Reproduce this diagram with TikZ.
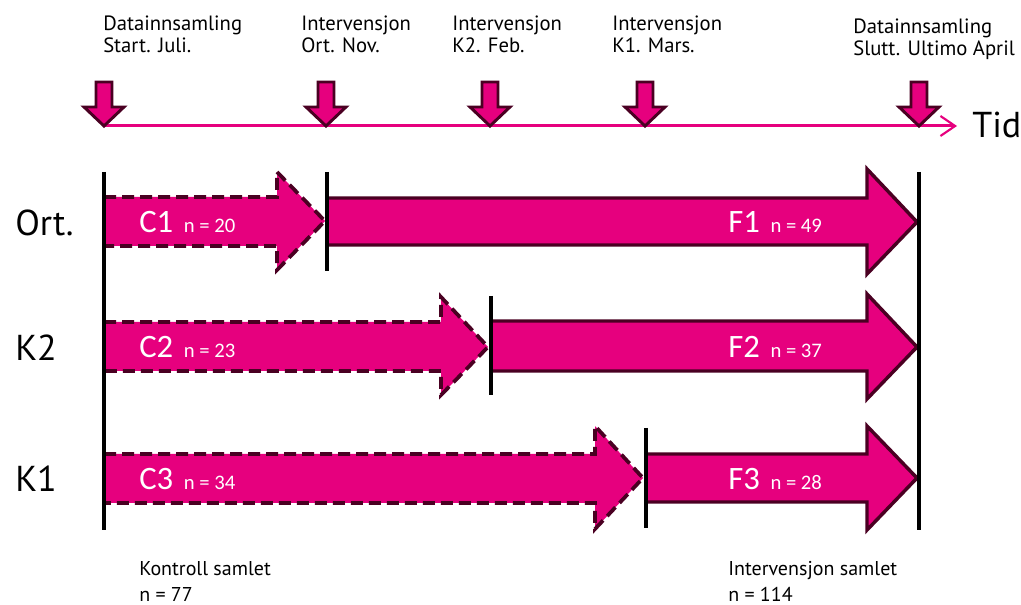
\documentclass[tikz,border=0pt]{standalone}
\usepackage{fontspec}
\setmainfont{PT Sans}
\newfontfamily\calibrifont{Carlito}
\usetikzlibrary{arrows.meta}

\definecolor{rosa}{HTML}{E6007E}
\definecolor{vinrod}{HTML}{4A0022}

\begin{document}
\begin{tikzpicture}[x=0.75pt,y=-0.75pt,
        tidslinje/.style={draw=rosa, line width=2.25pt, -{Straight Barb[length=11pt,width=15pt,line width=1.6pt]}},
        nedpil/.style={fill=rosa, draw=vinrod, line width=2.2pt, line join=miter},
        kontroll/.style={fill=rosa, draw=vinrod, line width=2.8pt, dash pattern=on 9pt off 4.5pt},
        fase/.style={fill=rosa, draw=vinrod, line width=2.6pt},
        skille/.style={draw=black, line width=2.4pt},
        toptekst/.style={anchor=north west, align=left, inner sep=0pt, font=\fontsize{15.5}{16.5}\selectfont},
        radtekst/.style={anchor=base west, inner sep=0pt, font=\fontsize{27}{30}\selectfont},
        fasetekst/.style={anchor=base west, inner sep=0pt, text=white, font=\calibrifont\fontsize{24.5}{26}\selectfont},
        bunntekst/.style={anchor=north west, align=left, inner sep=0pt, font=\fontsize{15}{19.5}\selectfont}]
        \useasboundingbox (0,0) rectangle (1021,605);
        % tidslinje
        \coordinate (t0) at (104,126);
        \coordinate (t1) at (957,126);
        \draw [tidslinje] (t0) -- (t1);
        \node [radtekst] (tid) at (972,138) {Tid};
        % tidspunkt
        \node [toptekst] (datastart) at (103,16) {Datainnsamling\\Start. Juli.};
        \node [toptekst] (intort) at (301,16) {Intervensjon\\Ort. Nov.};
        \node [toptekst] (intk2) at (452,16) {Intervensjon\\K2. Feb.};
        \node [toptekst] (intk1) at (612,16) {Intervensjon\\K1. Mars.};
        \node [toptekst] (dataslutt) at (853,19) {Datainnsamling\\Slutt. Ultimo April};
        \coordinate (p1) at (104,126);
        \coordinate (p2) at (326,126);
        \coordinate (p3) at (490,126);
        \coordinate (p4) at (645,126);
        \coordinate (p5) at (919,126);
        \draw [nedpil] (p1) -- ++(20,-19) -- ++(-12,0) -- ++(0,-25) -- ++(-16,0) -- ++(0,25) -- ++(-12,0) -- cycle;
        \draw [nedpil] (p2) -- ++(20,-19) -- ++(-12,0) -- ++(0,-25) -- ++(-16,0) -- ++(0,25) -- ++(-12,0) -- cycle;
        \draw [nedpil] (p3) -- ++(20,-19) -- ++(-12,0) -- ++(0,-25) -- ++(-16,0) -- ++(0,25) -- ++(-12,0) -- cycle;
        \draw [nedpil] (p4) -- ++(20,-19) -- ++(-12,0) -- ++(0,-25) -- ++(-16,0) -- ++(0,25) -- ++(-12,0) -- cycle;
        \draw [nedpil] (p5) -- ++(20,-19) -- ++(-12,0) -- ++(0,-25) -- ++(-16,0) -- ++(0,25) -- ++(-12,0) -- cycle;
        % rader
        \node [radtekst] (ort) at (15,236) {Ort.};
        \node [radtekst] (k2) at (15,361) {K2};
        \node [radtekst] (k1) at (15,492) {K1};
        % kontrollperioder
        \draw [kontroll] (104,197) -- (277,197) -- (277,172) -- (325,221) -- (277,270) -- (277,246) -- (104,246) -- cycle;
        \draw [kontroll] (104,322) -- (441,322) -- (441,297) -- (488,347) -- (441,395) -- (441,371) -- (104,371) -- cycle;
        \draw [kontroll] (104,454) -- (595,454) -- (595,426) -- (643,478) -- (595,529) -- (595,503) -- (104,503) -- cycle;
        % intervensjonsperioder
        \draw [fase] (327,198) -- (867,198) -- (867,169) -- (917,222) -- (867,274) -- (867,245) -- (327,245) -- cycle;
        \draw [fase] (491,321) -- (867,321) -- (867,294) -- (917,347) -- (867,399) -- (867,371) -- (491,371) -- cycle;
        \draw [fase] (646,454) -- (867,454) -- (867,426) -- (917,478) -- (867,530) -- (867,502) -- (646,502) -- cycle;
        % skillelinjer
        \draw [skille] (104,172) -- (104,530);
        \draw [skille] (327,172) -- (327,271);
        \draw [skille] (491,296) -- (491,395);
        \draw [skille] (646,428) -- (646,528);
        \draw [skille] (919,172) -- (919,530);
        % tekst i pilene
        \node [fasetekst] (c1) at (139,233) {C1\kern8pt\fontsize{15.5}{17}\selectfont n = 20};
        \node [fasetekst] (f1) at (728,233) {F1\kern8pt\fontsize{15.5}{17}\selectfont n = 49};
        \node [fasetekst] (c2) at (139,358) {C2\kern8pt\fontsize{15.5}{17}\selectfont n = 23};
        \node [fasetekst] (f2) at (728,358) {F2\kern8pt\fontsize{15.5}{17}\selectfont n = 37};
        \node [fasetekst] (c3) at (139,490) {C3\kern8pt\fontsize{15.5}{17}\selectfont n = 34};
        \node [fasetekst] (f3) at (728,490) {F3\kern8pt\fontsize{15.5}{17}\selectfont n = 28};
        % summer
        \node [bunntekst] (kontrollsum) at (139,561) {Kontroll samlet\\n = 77};
        \node [bunntekst] (intsum) at (728,561) {Intervensjon samlet\\n = 114};
\end{tikzpicture}
\end{document}
